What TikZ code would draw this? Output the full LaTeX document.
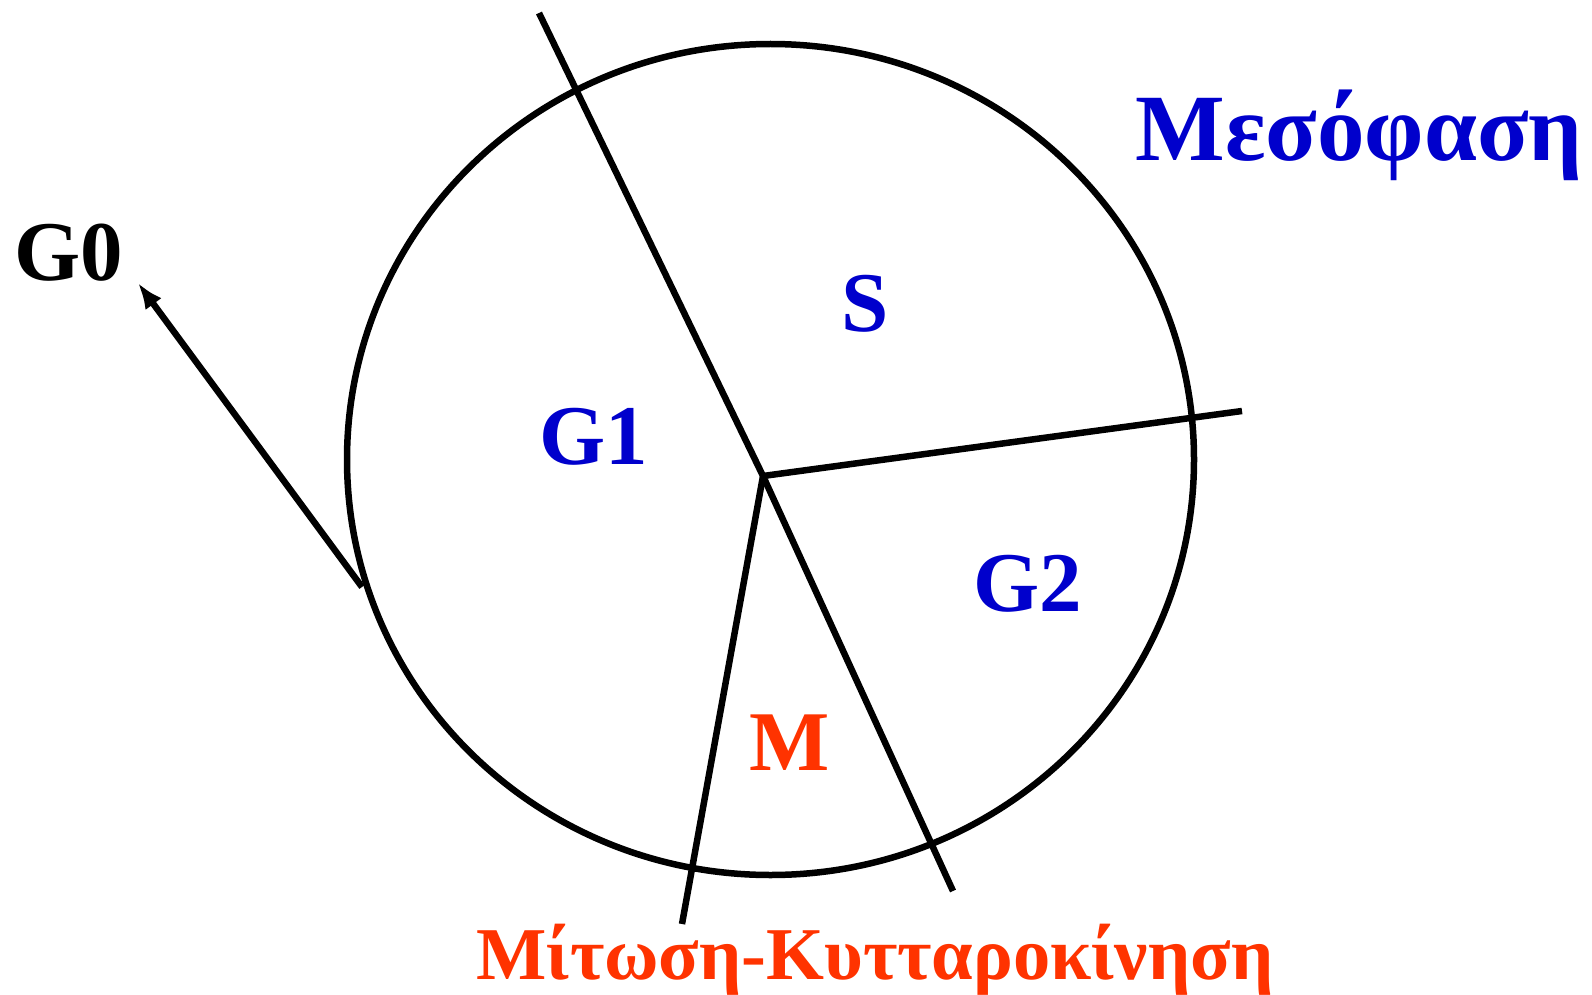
\documentclass[tikz,border=0pt]{standalone}
\usepackage{fontspec}
\setmainfont{Liberation Serif}
\usetikzlibrary{arrows.meta,shapes.geometric}
\definecolor{phaseblue}{RGB}{0,0,204}
\definecolor{phasered}{RGB}{255,51,0}
\tikzset{
  stroke/.style={line width=6.5pt, draw=black},
  biglabel/.style={inner sep=0pt, anchor=base, font=\bfseries\fontsize{85}{90}\selectfont},
  titlelabel/.style={inner sep=0pt, anchor=base, font=\bfseries\fontsize{95}{100}\selectfont},
  bottomlabel/.style={inner sep=0pt, anchor=base, font=\bfseries\fontsize{74.5}{78}\selectfont},
}
\begin{document}
\begin{tikzpicture}[x=1pt, y=-1pt]
\useasboundingbox (0,0) rectangle (1592,995);
% cell cycle circle
\node[stroke, ellipse, inner sep=0pt, minimum width=847pt, minimum height=831pt] (cell) at (770.5,459.5) {};
% dividing lines
\coordinate (hub) at (763,476);
\coordinate (topend) at (539,13);
\coordinate (botend) at (953,891);
\coordinate (rightend) at (1242,411);
\coordinate (lowend) at (682,924);
\coordinate (exit) at (362,587);
\draw[stroke] (topend) -- (hub) -- (botend);
\draw[stroke] (hub) -- (rightend);
\draw[stroke] (hub) -- (lowend);
% labels
\node[biglabel] (g0) at (68.5,280) {G0};
\node[biglabel, text=phaseblue] (s) at (865,331) {S};
\node[biglabel, text=phaseblue] (g1) at (593.5,464) {G1};
\node[biglabel, text=phaseblue] (g2) at (1027.5,611) {G2};
\node[biglabel, text=phasered] (m) at (790,770) {M};
\node[titlelabel, text=phaseblue] (inter) at (1359,161) {Μεσόφαση};
\node[bottomlabel, text=phasered] (mitosis) at (875,979) {Μίτωση-Κυτταροκίνηση};
% exit arrow to G0
\coordinate (g0tip) at (138,283);
\draw[stroke, -{Latex[length=26pt,width=20pt]}] (exit) -- (g0tip);
\end{tikzpicture}
\end{document}
